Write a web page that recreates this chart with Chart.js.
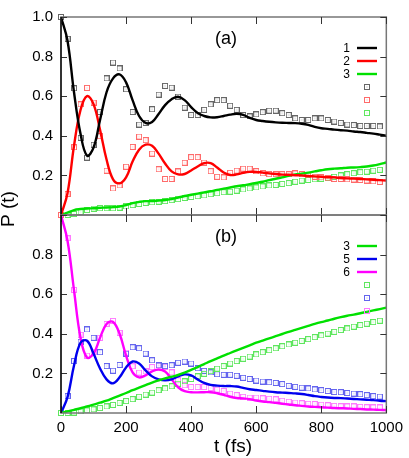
<!DOCTYPE html>
<html>
<head>
<meta charset="utf-8">
<script src="https://cdn.jsdelivr.net/npm/chart.js@4.4.0/dist/chart.umd.min.js"></script>
<style>
  html, body { margin: 0; padding: 0; background: #fff; }
  #wrap { position: relative; width: 409px; height: 458px; }
</style>
</head>
<body>
<div id="wrap"><canvas id="popChart" width="409" height="458"></canvas></div>
<script>
// time grids (fs): theory curves and simulation points
const timesLine = [0,20,40,60,80,100,120,140,160,180,200,220,240,260,280,300,320,340,360,380,
  400,420,440,460,480,500,520,540,560,580,600,620,640,660,680,700,720,740,760,780,
  800,820,840,860,880,900,920,940,960,980,1000];
const timesSim = [0,20,40,60,80,100,120,140,160,180,200,220,240,260,280,300,320,340,360,380,
  400,420,440,460,480,500,520,540,560,580,600,620,640,660,680,700,720,740,760,780,
  800,820,840,860,880,900,920,940,960,980];

const xTickVals = [0, 200, 400, 600, 800, 1000];
const yTickVals = [0.2, 0.4, 0.6, 0.8, 1.0];

// panel (a)
const p1Line = [1.0,0.88,0.62,0.41,0.30,0.34,0.48,0.62,0.69,0.71,
  0.67,0.58,0.50,0.465,0.47,0.51,0.555,0.585,0.597,0.58,
  0.545,0.515,0.50,0.493,0.494,0.50,0.507,0.511,0.506,0.49,
  0.48,0.475,0.471,0.468,0.466,0.465,0.464,0.461,0.455,0.445,
  0.438,0.435,0.431,0.428,0.426,0.422,0.419,0.415,0.411,0.406,0.401];
const p2Line = [0,0.11,0.35,0.53,0.60,0.56,0.43,0.28,0.18,0.16,
  0.19,0.27,0.33,0.355,0.35,0.31,0.26,0.22,0.205,0.207,
  0.225,0.245,0.262,0.262,0.24,0.215,0.202,0.205,0.213,0.218,
  0.218,0.214,0.21,0.207,0.204,0.203,0.201,0.2,0.197,0.195,
  0.193,0.191,0.19,0.187,0.185,0.184,0.182,0.18,0.178,0.176,0.174];
const p3aLine = [0,0.012,0.025,0.03,0.033,0.034,0.036,0.038,0.04,0.043,
  0.05,0.06,0.066,0.07,0.07,0.073,0.076,0.08,0.088,0.096,
  0.102,0.108,0.114,0.12,0.127,0.133,0.139,0.145,0.15,0.156,
  0.162,0.168,0.176,0.183,0.19,0.198,0.205,0.209,0.214,0.22,
  0.226,0.231,0.234,0.236,0.239,0.24,0.242,0.245,0.25,0.257,0.265];
const p1Sim = [1.0,0.89,0.64,0.39,0.29,0.355,0.52,0.69,0.77,0.74,
  0.635,0.52,0.457,0.465,0.534,0.608,0.652,0.643,0.598,0.542,
  0.505,0.505,0.531,0.559,0.58,0.58,0.552,0.531,0.505,0.498,
  0.508,0.519,0.527,0.527,0.514,0.505,0.488,0.48,0.48,0.488,
  0.488,0.48,0.472,0.465,0.457,0.454,0.45,0.45,0.45,0.447];
const p2Sim = [0,0.106,0.342,0.559,0.642,0.568,0.398,0.224,0.134,0.149,
  0.244,0.344,0.396,0.378,0.31,0.231,0.182,0.182,0.22,0.264,
  0.292,0.292,0.265,0.221,0.193,0.19,0.213,0.224,0.234,0.234,
  0.221,0.21,0.206,0.206,0.206,0.206,0.21,0.206,0.2,0.193,
  0.19,0.185,0.182,0.182,0.18,0.179,0.177,0.174,0.17,0.167];
const p3aSim = [0,0,0.005,0.015,0.025,0.032,0.034,0.034,0.034,0.037,
  0.043,0.05,0.056,0.061,0.064,0.067,0.07,0.075,0.08,0.086,
  0.091,0.095,0.099,0.105,0.11,0.115,0.118,0.123,0.129,0.134,
  0.139,0.144,0.149,0.152,0.157,0.161,0.168,0.174,0.177,0.18,
  0.183,0.188,0.193,0.2,0.206,0.211,0.216,0.219,0.224,0.228];

// panel (b)
const p3bLine = [0,0.008,0.016,0.024,0.033,0.042,0.052,0.062,0.075,0.088,
  0.101,0.115,0.128,0.141,0.154,0.165,0.175,0.183,0.192,0.204,
  0.218,0.232,0.247,0.262,0.276,0.29,0.303,0.316,0.329,0.342,
  0.355,0.366,0.377,0.388,0.399,0.41,0.42,0.43,0.44,0.45,
  0.459,0.467,0.476,0.484,0.491,0.497,0.504,0.511,0.518,0.525,0.532];
const p5Line = [0,0.08,0.24,0.355,0.365,0.30,0.225,0.17,0.15,0.18,
  0.23,0.26,0.25,0.215,0.185,0.17,0.165,0.17,0.185,0.195,
  0.19,0.17,0.152,0.142,0.138,0.136,0.136,0.134,0.127,0.12,
  0.116,0.112,0.108,0.105,0.103,0.101,0.099,0.096,0.091,0.085,
  0.081,0.078,0.076,0.075,0.073,0.071,0.069,0.067,0.065,0.062,0.06];
const p6Line = [1.0,0.87,0.62,0.38,0.28,0.30,0.38,0.45,0.46,0.40,
  0.29,0.205,0.18,0.19,0.21,0.22,0.21,0.17,0.13,0.11,
  0.105,0.104,0.105,0.105,0.1,0.092,0.082,0.076,0.074,0.07,
  0.063,0.058,0.055,0.051,0.047,0.043,0.039,0.036,0.033,0.031,
  0.029,0.027,0.025,0.024,0.023,0.021,0.02,0.018,0.017,0.016,0.015];
const p3bSim = [0,0,0.002,0.008,0.013,0.018,0.025,0.033,0.041,0.051,
  0.06,0.07,0.082,0.093,0.103,0.115,0.124,0.135,0.148,0.16,
  0.172,0.185,0.198,0.211,0.224,0.237,0.25,0.262,0.274,0.285,
  0.296,0.307,0.317,0.327,0.337,0.346,0.355,0.364,0.373,0.383,
  0.392,0.401,0.41,0.419,0.427,0.436,0.444,0.451,0.459,0.466];
const p5Sim = [0,0.085,0.262,0.36,0.422,0.38,0.307,0.237,0.214,0.243,
  0.3,0.332,0.327,0.3,0.266,0.24,0.237,0.241,0.254,0.26,
  0.25,0.226,0.213,0.205,0.196,0.193,0.193,0.188,0.178,0.172,
  0.164,0.159,0.155,0.152,0.146,0.137,0.132,0.128,0.124,0.119,
  0.115,0.111,0.106,0.105,0.101,0.098,0.095,0.09,0.085,0.083];
const p6Sim = [1.0,0.882,0.622,0.395,0.29,0.31,0.38,0.45,0.465,0.405,
  0.305,0.236,0.204,0.21,0.232,0.24,0.234,0.205,0.165,0.14,
  0.131,0.131,0.131,0.126,0.118,0.111,0.098,0.09,0.082,0.078,
  0.078,0.074,0.072,0.069,0.062,0.057,0.053,0.049,0.047,0.045,
  0.042,0.039,0.036,0.034,0.033,0.033,0.031,0.029,0.028,0.028];

const FONT = "'Liberation Sans', Arial, Helvetica, sans-serif";
Chart.defaults.font.family = FONT;

// small open square with a dot, like gnuplot point type 4
function makeSquare(color) {
    const c = document.createElement('canvas');
    c.width = 6; c.height = 6;
    const g = c.getContext('2d');
    g.strokeStyle = color;
    g.lineWidth = 1;
    g.strokeRect(0.5, 0.5, 5, 5);
    g.globalAlpha = 0.6;
    g.fillStyle = color;
    g.fillRect(2.5, 2.5, 1, 1);
    return c;
}

function pts(times, vals) {
    return vals.map((v, i) => ({x: times[i], y: v}));
}

function lineSet(label, vals, color, axis) {
    return {
        label: label, data: pts(timesLine, vals), yAxisID: axis,
        borderColor: color, borderWidth: 2.4, pointRadius: 0,
        tension: 0.4, fill: false, order: 0
    };
}

function simSet(label, vals, color, axis) {
    return {
        label: label, data: pts(timesSim, vals), yAxisID: axis,
        showLine: false, pointStyle: makeSquare(color), pointRadius: 3,
        borderColor: color, backgroundColor: 'transparent', order: 1, clip: 6
    };
}

const C = {
    black: '#000000', red: '#ff0000', green: '#00e000', blue: '#0000ee', magenta: '#ff00ff',
    sGray: '#666666', sRed: '#ff6a6a', sGreen: '#5ee65e', sBlue: '#6464ee', sMagenta: '#ff7aff'
};

const legendA = [
    {label: '1', color: C.black, sim: C.sGray},
    {label: '2', color: C.red, sim: C.sRed},
    {label: '3', color: C.green, sim: C.sGreen}
];
const legendB = [
    {label: '3', color: C.green, sim: C.sGreen},
    {label: '5', color: C.blue, sim: C.sBlue},
    {label: '6', color: C.magenta, sim: C.sMagenta}
];

function drawPanel(ctx, xs, ys) {
    const l = xs.left, r = xs.right, t = ys.top, b = ys.bottom;
    ctx.save();
    ctx.strokeStyle = '#777';
    ctx.lineWidth = 1.5;
    ctx.strokeRect(l, t, r - l, b - t);
    ctx.strokeStyle = '#333';
    ctx.lineWidth = 1;
    ctx.beginPath();
    xTickVals.forEach(v => {
        const px = Math.round(xs.getPixelForValue(v)) + 0.5;
        ctx.moveTo(px, t); ctx.lineTo(px, t + 7);
        ctx.moveTo(px, b); ctx.lineTo(px, b - 7);
    });
    yTickVals.forEach(v => {
        const py = Math.round(ys.getPixelForValue(v)) + 0.5;
        ctx.moveTo(l, py); ctx.lineTo(l + 6, py);
        ctx.moveTo(r, py); ctx.lineTo(r - 6, py);
    });
    ctx.stroke();
    // left axis drawn darker
    ctx.strokeStyle = '#111';
    ctx.lineWidth = 1.5;
    ctx.beginPath();
    ctx.moveTo(l, t); ctx.lineTo(l, b);
    ctx.stroke();
    ctx.restore();
}

function drawLegend(ctx, ys, entries, tag) {
    ctx.save();
    ctx.fillStyle = '#000';
    ctx.font = '18px ' + FONT;
    ctx.textAlign = 'center';
    ctx.textBaseline = 'middle';
    ctx.fillText(tag, 226, ys.top + 22);

    ctx.font = '12px ' + FONT;
    ctx.textAlign = 'right';
    entries.forEach((e, i) => {
        const y = ys.top + 31 + i * 13;
        ctx.fillStyle = '#000';
        ctx.fillText(e.label, 350, y + 1);
        ctx.strokeStyle = e.color;
        ctx.lineWidth = 2.4;
        ctx.beginPath();
        ctx.moveTo(357, y); ctx.lineTo(377, y);
        ctx.stroke();
    });
    entries.forEach((e, i) => {
        const y = Math.round(ys.top + 31 + (i + 3) * 13);
        ctx.drawImage(makeSquare(e.sim), 364, y - 3);
    });
    ctx.restore();
}

const panelDecor = {
    id: 'panelDecor',
    afterDatasetsDraw(chart) {
        const ctx = chart.ctx;
        const xs = chart.scales.x;
        drawPanel(ctx, xs, chart.scales.yA);
        drawPanel(ctx, xs, chart.scales.yB);
        drawLegend(ctx, chart.scales.yA, legendA, '(a)');
        drawLegend(ctx, chart.scales.yB, legendB, '(b)');

        ctx.save();
        ctx.fillStyle = '#000';
        ctx.font = '19px ' + FONT;
        ctx.textAlign = 'center';
        ctx.textBaseline = 'middle';
        ctx.fillText('t (fs)', 233, 447);
        ctx.translate(9, 209);
        ctx.rotate(-Math.PI / 2);
        ctx.fillText('P (t)', 0, 0);
        ctx.restore();
    }
};

function yAxis(hideTop) {
    return {
        type: 'linear', position: 'left', stack: 'panels', stackWeight: 1,
        min: 0, max: 1,
        grid: {display: false, drawTicks: false},
        border: {display: false},
        ticks: {
            stepSize: 0.2, padding: 8, color: '#000', font: {size: 15},
            callback: function (v) {
                if (v < 0.1) return '';
                if (hideTop && v > 0.9) return '';
                return v.toFixed(1);
            }
        },
        afterFit: function (s) { s.width = 61; }
    };
}

const ctx = document.getElementById('popChart').getContext('2d');
const popChart = new Chart(ctx, {
    type: 'line',
    data: {
        datasets: [
            lineSet('1', p1Line, C.black, 'yA'),
            lineSet('2', p2Line, C.red, 'yA'),
            lineSet('3', p3aLine, C.green, 'yA'),
            lineSet('3', p3bLine, C.green, 'yB'),
            lineSet('5', p5Line, C.blue, 'yB'),
            lineSet('6', p6Line, C.magenta, 'yB'),
            simSet('1 sim', p1Sim, C.sGray, 'yA'),
            simSet('2 sim', p2Sim, C.sRed, 'yA'),
            simSet('3 sim', p3aSim, C.sGreen, 'yA'),
            simSet('3 sim', p3bSim, C.sGreen, 'yB'),
            simSet('5 sim', p5Sim, C.sBlue, 'yB'),
            simSet('6 sim', p6Sim, C.sMagenta, 'yB')
        ]
    },
    options: {
        responsive: false,
        animation: false,
        devicePixelRatio: 1,
        layout: {padding: {top: 6, right: 17, left: 0, bottom: 0}},
        plugins: {legend: {display: false}, tooltip: {enabled: false}},
        events: [],
        scales: {
            x: {
                type: 'linear', min: 0, max: 1000,
                grid: {display: false, drawTicks: false},
                border: {display: false},
                ticks: {
                    stepSize: 200, padding: 6, color: '#000', font: {size: 15},
                    maxRotation: 0, autoSkip: false,
                    callback: function (v) { return String(v); }
                },
                afterFit: function (s) { s.height = 45; }
            },
            yB: yAxis(true),
            yA: yAxis(false)
        }
    },
    plugins: [panelDecor]
});
</script>
</body>
</html>
